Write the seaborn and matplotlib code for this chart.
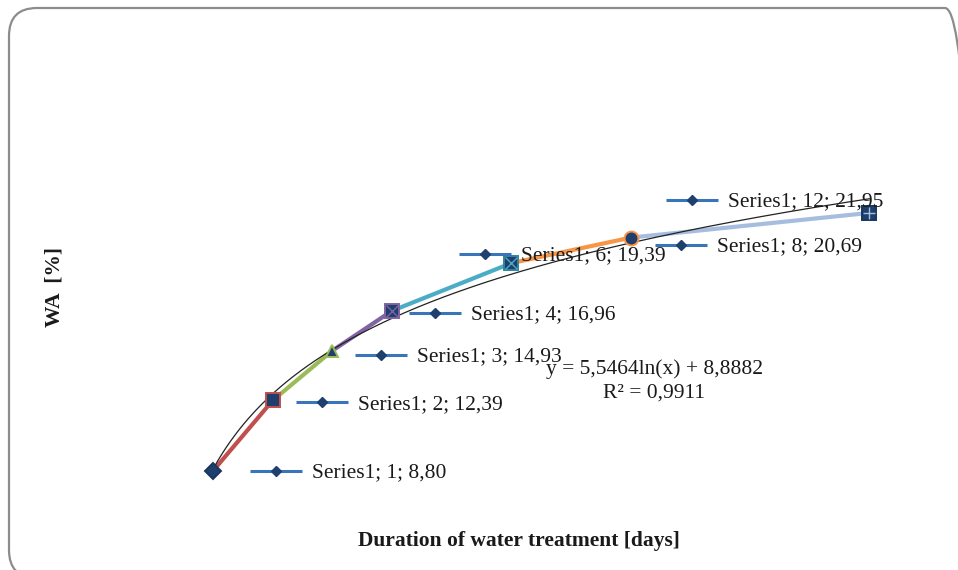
import numpy as np
import pandas as pd
import seaborn as sns
import matplotlib.pyplot as plt
import matplotlib.transforms as mtransforms
from matplotlib.patches import FancyBboxPatch

sns.set_theme(style="white")
plt.rcParams['font.family'] = ['Liberation Serif', 'DejaVu Serif']

# Data
days = [1, 2, 3, 4, 6, 8, 12]
wa = [8.80, 12.39, 14.93, 16.96, 19.39, 20.69, 21.95]
label_text = ['8,80', '12,39', '14,93', '16,96', '19,39', '20,69', '21,95']

# trendline as printed on the chart
trend_a = 5.5464
trend_b = 8.8882
trend_r2 = '0,9911'

# Excel-like styling of each segment / point
seg_colors = ['#C0504D', '#9BBB59', '#8064A2', '#4BACC6', '#F79646', '#A6BDDF']
markers = ['D', 's', '^', 's', 's', 'o', 's']
edge_colors = ['#17375E', '#C0504D', '#9BBB59', '#8064A2', '#31859C', '#F79646', '#17375E']
overlay = [None, None, None, 'x', 'x', None, '+']
overlay_colors = [None, None, None, '#8064A2', '#4BACC6', None, '#A6BDDF']
# label key offsets (pixels) relative to each point
key_dx = [63, 49, 49, 43, -26, 50, -177]
key_dy = [0, -2, -4, -2, 9, -7, 13]

fig = plt.figure(figsize=(9.58, 5.70), dpi=100)
ax = fig.add_axes([153.3 / 958, 60 / 570, 746 / 958, 470 / 570])
ax.set_xlim(0, 12.5)
ax.set_ylim(6.81, 30.76)
ax.axis('off')

# coloured segments between consecutive points
rows = []
for i in range(len(days) - 1):
    rows.append({'x': days[i], 'y': wa[i], 'seg': i})
    rows.append({'x': days[i + 1], 'y': wa[i + 1], 'seg': i})
seg_df = pd.DataFrame(rows)
sns.lineplot(data=seg_df, x='x', y='y', hue='seg', palette=seg_colors, legend=False,
             lw=3, estimator=None, sort=False, ax=ax, zorder=3)

# logarithmic trendline
xt = np.linspace(min(days), max(days), 300)
ax.plot(xt, trend_a * np.log(xt) + trend_b, color='#222222', lw=0.9, zorder=4)

# markers
for i in range(len(days)):
    ms = 10 if markers[i] != '^' else 9
    if markers[i] == 'D':
        ms = 8.5
    ax.plot(days[i], wa[i], marker=markers[i], ms=ms, color='#1F3F6E',
            markeredgecolor=edge_colors[i], mew=1.4, zorder=5, linestyle='none')
    if overlay[i]:
        ax.plot(days[i], wa[i], marker=overlay[i], ms=9, color=overlay_colors[i],
                mew=1.0, zorder=6, linestyle='none')

# data labels with legend keys
for i in range(len(days)):
    tr = mtransforms.offset_copy(ax.transData, fig=fig, x=key_dx[i], y=key_dy[i], units='dots')
    ax.plot(days[i], wa[i], marker='_', ms=37, mew=2.2, color='#3A75BA', transform=tr, zorder=7)
    ax.plot(days[i], wa[i], marker='D', ms=5, color='#1F3F6E', transform=tr, zorder=8)
    ttr = mtransforms.offset_copy(ax.transData, fig=fig, x=key_dx[i] + 36, y=key_dy[i] - 2, units='dots')
    ax.text(days[i], wa[i], 'Series1; %d; %s' % (days[i], label_text[i]), transform=ttr,
            ha='left', va='center', fontsize=15.5, color='#1a1a1a', zorder=9)

# trendline equation
eq = 'y = %sln(x) + %s' % (str(trend_a).replace('.', ','), str(trend_b).replace('.', ','))
fig.text(654 / 958, 1 - 369 / 570, eq, ha='center', va='center', fontsize=15.5, color='#1a1a1a')
fig.text(654 / 958, 1 - 393 / 570, 'R² = ' + trend_r2,
         ha='center', va='center', fontsize=15.5, color='#1a1a1a')

# axis titles
fig.text(519 / 958, 1 - 541 / 570, 'Duration of water treatment [days]', ha='center', va='center',
         fontsize=15.5, fontweight='bold', color='#1a1a1a')
fig.text(55 / 958, 1 - 287 / 570, 'WA  [%]', ha='center', va='center', rotation=90,
         fontsize=15.5, fontweight='bold', color='#1a1a1a')

# rounded chart border
border = FancyBboxPatch((9, -8), 964, 570, boxstyle='round,pad=0,rounding_size=28',
                        transform=None, facecolor='none', edgecolor='#8c8c8c', lw=1.6)
fig.patches.append(border)

fig.savefig('out.png', dpi=100)
